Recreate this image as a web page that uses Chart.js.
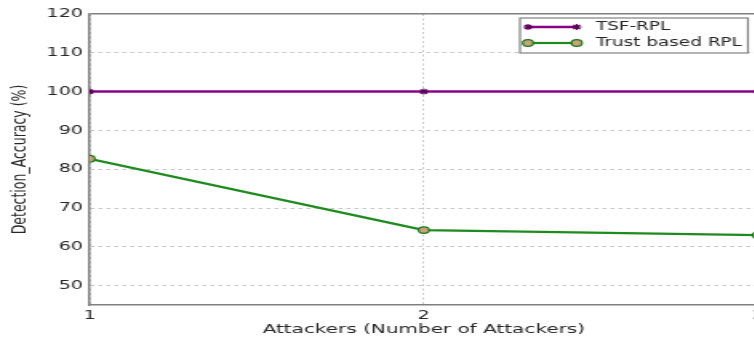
<!DOCTYPE html>
<html>
<head>
<meta charset="utf-8">
<script src="https://cdn.jsdelivr.net/npm/chart.js@4/dist/chart.umd.min.js"></script>
<style>
  html, body { margin: 0; padding: 0; background: #fff; overflow: hidden; }
  /* figure is drawn narrow and stretched sideways */
  #wrap { width: 479px; height: 341px; transform: scaleX(1.6); transform-origin: 0 0; }
</style>
</head>
<body>
<div id="wrap"><canvas id="accChart" width="479" height="341"></canvas></div>
<script>
const attackers = [1, 2, 3];
const tsfRpl = [100, 100, 100];
const trustRpl = [82.7, 64.3, 63.0];
const xTickValues = [1, 2, 3];
const yTickValues = [50, 60, 70, 80, 90, 100, 110, 120];

const textColor = '#262626';
const fontFamily = "'DejaVu Sans', sans-serif";

// legend box in the upper right corner of the plot
const boxLegend = {
  id: 'boxLegend',
  afterDraw(chart) {
    const ctx = chart.ctx;
    const x0 = 325, y0 = 18, w = 142.5, h = 35;
    ctx.save();
    ctx.fillStyle = '#fff';
    ctx.fillRect(x0, y0, w, h);
    ctx.strokeStyle = '#808080';
    ctx.lineWidth = 1.2;
    ctx.strokeRect(x0, y0, w, h);

    const rows = [27, 43];
    chart.data.datasets.forEach((ds, i) => {
      const y = rows[i];
      ctx.strokeStyle = ds.borderColor;
      ctx.lineWidth = ds.borderWidth;
      ctx.beginPath();
      ctx.moveTo(330, y);
      ctx.lineTo(360.5, y);
      ctx.stroke();
      [330, 360.5].forEach(px => {
        ctx.fillStyle = ds.pointBackgroundColor;
        ctx.strokeStyle = ds.pointBorderColor;
        ctx.lineWidth = ds.pointBorderWidth;
        Chart.helpers.drawPoint(ctx, {
          pointStyle: ds.pointStyle,
          radius: ds.pointRadius,
          rotation: 0,
          borderWidth: ds.pointBorderWidth
        }, px, y);
      });
      ctx.fillStyle = textColor;
      ctx.font = "11.5px " + fontFamily;
      ctx.textBaseline = 'middle';
      ctx.textAlign = 'left';
      ctx.fillText(ds.label, 372.5, y);
    });
    ctx.restore();
  }
};

new Chart(document.getElementById('accChart'), {
  type: 'line',
  data: {
    datasets: [
      {
        label: 'TSF-RPL',
        data: attackers.map((a, i) => ({ x: a, y: tsfRpl[i] })),
        borderColor: '#880088',
        borderWidth: 2.5,
        pointStyle: 'star',
        pointRadius: 3,
        pointBorderWidth: 1.2,
        pointBorderColor: '#5a005a',
        pointBackgroundColor: '#5a005a',
        tension: 0
      },
      {
        label: 'Trust based RPL',
        data: attackers.map((a, i) => ({ x: a, y: trustRpl[i] })),
        borderColor: '#1f8a1f',
        borderWidth: 2.2,
        pointStyle: 'circle',
        pointRadius: 3.3,
        pointBorderWidth: 1.2,
        pointBorderColor: '#1f7a1f',
        pointBackgroundColor: '#c9a27a',
        tension: 0
      }
    ]
  },
  options: {
    responsive: false,
    animation: false,
    devicePixelRatio: 1,
    layout: { padding: { top: 14, left: 0, right: 0, bottom: 0 } },
    plugins: {
      legend: { display: false },
      tooltip: { enabled: false }
    },
    scales: {
      x: {
        type: 'linear',
        min: 1,
        max: 3,
        afterBuildTicks: s => { s.ticks = xTickValues.map(v => ({ value: v })); },
        afterFit: s => { s.height = 36; s.paddingLeft = 0; s.paddingRight = 0; },
        grid: { color: '#c8c8c8', lineWidth: 1, drawTicks: false },
        border: { color: '#808080', width: 1.5, dash: [2, 2.5] },
        ticks: {
          padding: 4,
          color: textColor,
          font: { family: fontFamily, size: 12 },
          maxRotation: 0,
          callback: v => String(v)
        },
        title: {
          display: true,
          text: 'Attackers (Number of Attackers)',
          color: textColor,
          font: { family: fontFamily, size: 12.5 },
          padding: { top: 0, bottom: 4 }
        }
      },
      y: {
        min: 45,
        max: 120,
        afterBuildTicks: s => { s.ticks = yTickValues.map(v => ({ value: v })); },
        afterFit: s => { s.width = 56; s.paddingTop = 0; s.paddingBottom = 0; },
        grid: {
          drawTicks: false,
          color: c => (c.tick && c.tick.value === 120 ? '#808080' : '#c8c8c8'),
          lineWidth: c => (c.tick && c.tick.value === 120 ? 1.5 : 1)
        },
        border: {
          color: '#808080',
          width: 1.5,
          dash: c => (c.tick && c.tick.value === 120 ? [] : [2.5, 2.5])
        },
        ticks: {
          padding: 4,
          color: textColor,
          font: { family: fontFamily, size: 12 },
          callback: v => String(v)
        },
        title: {
          display: true,
          text: 'Detection_Accuracy (%)',
          color: textColor,
          font: { family: fontFamily, size: 12.5 },
          padding: { top: 5, bottom: 0 }
        }
      }
    }
  },
  plugins: [boxLegend]
});
</script>
</body>
</html>
